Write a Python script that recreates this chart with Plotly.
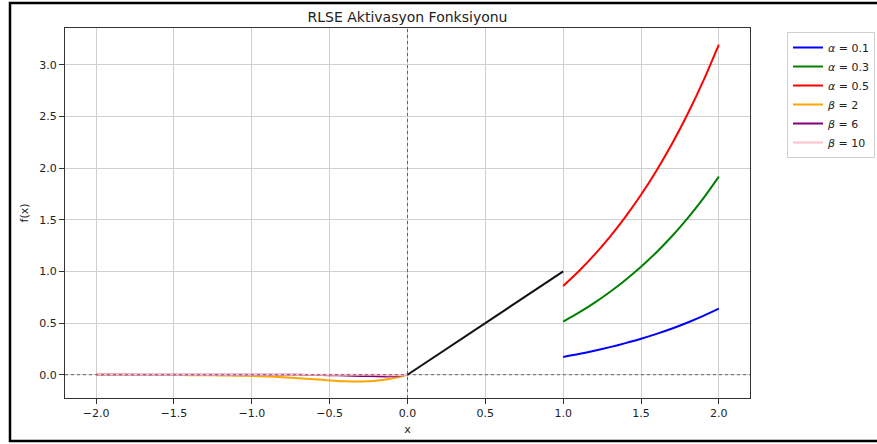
import plotly.graph_objects as go

# ---- data ----
x_pos = [1.0, 1.1, 1.2, 1.3, 1.4, 1.5, 1.6, 1.7, 1.8, 1.9, 2.0]
alpha_01 = [0.172, 0.200, 0.232, 0.267, 0.306, 0.348, 0.395, 0.447, 0.505, 0.569, 0.639]
alpha_03 = [0.515, 0.601, 0.696, 0.801, 0.917, 1.045, 1.186, 1.342, 1.515, 1.706, 1.917]
alpha_05 = [0.859, 1.002, 1.160, 1.335, 1.528, 1.741, 1.977, 2.237, 2.525, 2.843, 3.195]

x_neg = [-2.0, -1.9, -1.8, -1.7, -1.6, -1.5, -1.4, -1.3, -1.2, -1.1, -1.0,
         -0.9, -0.8, -0.7, -0.6, -0.5, -0.4, -0.3, -0.2, -0.1, 0.0]
beta_2 = [-0.001, -0.001, -0.001, -0.002, -0.002, -0.003, -0.004, -0.005, -0.007, -0.009, -0.012,
          -0.017, -0.024, -0.033, -0.044, -0.055, -0.064, -0.066, -0.058, -0.036, 0.0]
beta_6 = [0.0, 0.0, 0.0, 0.0, 0.0, 0.0, 0.0, 0.0, 0.0, 0.0, 0.0,
          0.0, 0.0, -0.001, -0.002, -0.004, -0.007, -0.011, -0.015, -0.015, 0.0]
beta_10 = [0.0, 0.0, 0.0, 0.0, 0.0, 0.0, 0.0, 0.0, 0.0, 0.0, 0.0,
           0.0, 0.0, 0.0, 0.0, 0.0, 0.0, 0.0, -0.001, -0.004, 0.0]

x_mid = [0.0, 1.0]
y_mid = [0.0, 1.0]

x_ticks = [-2.0, -1.5, -1.0, -0.5, 0.0, 0.5, 1.0, 1.5, 2.0]
y_ticks = [0.0, 0.5, 1.0, 1.5, 2.0, 2.5, 3.0]

# ---- layout geometry (pixels) ----
W, H = 877, 444
L, R, T, B = 65, 750, 28, 398

FONT = "DejaVu Sans"

fig = go.Figure()

series = [
    (x_pos, alpha_01, "<i>α</i> = 0.1", "#0000ff"),
    (x_pos, alpha_03, "<i>α</i> = 0.3", "#008000"),
    (x_pos, alpha_05, "<i>α</i> = 0.5", "#ff0000"),
    (x_neg, beta_2, "<i>β</i> = 2", "#ffa500"),
    (x_neg, beta_6, "<i>β</i> = 6", "#800080"),
    (x_neg, beta_10, "<i>β</i> = 10", "#ffc0cb"),
]
for xs, ys, name, col in series:
    fig.add_trace(go.Scatter(x=xs, y=ys, mode="lines", name=name,
                             line=dict(color=col, width=2, shape="spline", smoothing=0.6)))

fig.add_trace(go.Scatter(x=x_mid, y=y_mid, mode="lines", showlegend=False,
                         line=dict(color="#111111", width=2)))

# zero reference lines
fig.add_hline(y=0, line=dict(color="#333333", width=0.7, dash="dot"), layer="above")
fig.add_vline(x=0, line=dict(color="#333333", width=0.7, dash="dot"), layer="above")

pw, ph = R - L, B - T
def px(xp):
    return (xp - L) / pw
def py(yp):
    return (B - yp) / ph

# outer black frame of the screenshot
fig.add_shape(type="rect", xref="paper", yref="paper",
              x0=px(10), x1=px(900), y0=py(441), y1=py(3),
              line=dict(color="black", width=2.5), fillcolor="rgba(0,0,0,0)")

axis_common = dict(showgrid=True, gridcolor="#cfcfcf", gridwidth=1,
                   zeroline=False, showline=True, linecolor="#333333", linewidth=1,
                   mirror=True, ticks="outside", ticklen=5, tickcolor="#333333",
                   tickfont=dict(family=FONT, size=11, color="#222222"),
                   tickformat=".1f")

fig.update_layout(
    width=W, height=H,
    margin=dict(l=L, r=W - R, t=T, b=H - B, autoexpand=False),
    paper_bgcolor="white", plot_bgcolor="white",
    font=dict(family=FONT, size=11, color="#222222"),
    title=dict(text="RLSE Aktivasyon Fonksiyonu", x=0.5, xref="paper",
               y=1 - 17 / H, yref="container", yanchor="middle",
               font=dict(family=FONT, size=14, color="#222222")),
    xaxis=dict(range=[-2.2, 2.2], tickvals=x_ticks,
               title=dict(text="x", standoff=6, font=dict(family=FONT, size=11)),
               **axis_common),
    yaxis=dict(range=[-0.225, 3.355], tickvals=y_ticks,
               title=dict(text="f(x)", standoff=8, font=dict(family=FONT, size=11)),
               **axis_common),
    legend=dict(x=px(787), y=py(32), xanchor="left", yanchor="top",
                bordercolor="#d0d0d0", borderwidth=1, bgcolor="white",
                font=dict(family=FONT, size=11, color="#222222"),
                itemwidth=30, tracegroupgap=0),
    showlegend=True,
)

fig.write_html("out.html", config={"displayModeBar": False},
               post_script="document.body.style.margin='0';document.body.style.padding='0';")
